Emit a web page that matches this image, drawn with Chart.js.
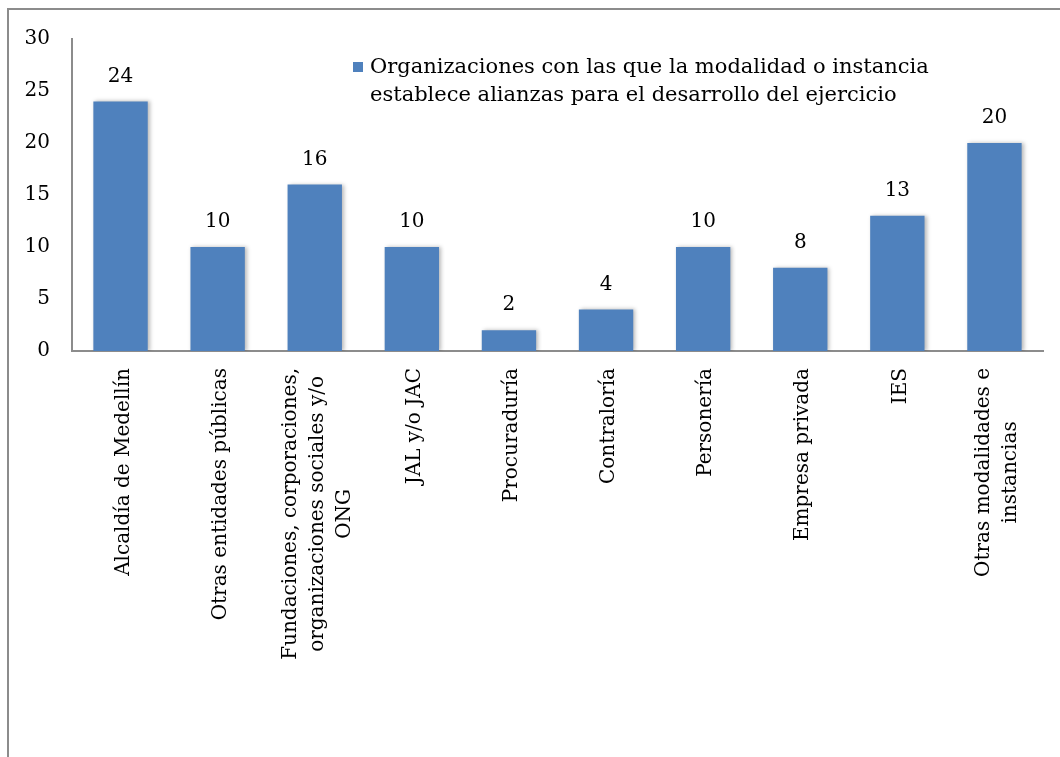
<!DOCTYPE html>
<html>
<head>
<meta charset="utf-8">
<script src="https://cdn.jsdelivr.net/npm/chart.js@4"></script>
<style>
  html, body { margin: 0; padding: 0; background: #fff; overflow: hidden; }
  #chart { display: block; }
</style>
</head>
<body>
<canvas id="chart" width="1060" height="757"></canvas>
<script>
// categories (multi-line ones are split the way the reference wraps them)
let categories = [
    ['Alcaldía de Medellín'],
    ['Otras entidades públicas'],
    ['Fundaciones, corporaciones,', 'organizaciones sociales y/o', 'ONG'],
    ['JAL y/o JAC'],
    ['Procuraduría'],
    ['Contraloría'],
    ['Personería'],
    ['Empresa privada'],
    ['IES'],
    ['Otras modalidades e', 'instancias']
]
// number of organizations per category
let values = [24, 10, 16, 10, 2, 4, 10, 8, 13, 20]
let seriesName = ['Organizaciones con las que la modalidad o instancia', 'establece alianzas para el desarrollo del ejercicio']
let yTicks = [0, 5, 10, 15, 20, 25, 30]

let font = '"DejaVu Serif", serif'
let fontSize = 20
let barColor = '#4F81BD'

// grey frame at the top and left edge, like the cropped chart box
let framePlugin = {
    id: 'frame',
    beforeDraw: function(chart) {
        let c = chart.ctx
        c.save()
        c.strokeStyle = '#8c8c8c'
        c.lineWidth = 2
        c.beginPath()
        c.moveTo(1060, 9)
        c.lineTo(8, 9)
        c.lineTo(8, 757)
        c.stroke()
        c.restore()
    }
}

// soft shadow behind the bars
let shadowPlugin = {
    id: 'barShadow',
    beforeDatasetsDraw: function(chart) {
        let c = chart.ctx
        c.save()
        c.shadowColor = 'rgba(0,0,0,0.28)'
        c.shadowBlur = 4
        c.shadowOffsetX = 2
        c.shadowOffsetY = 0
    },
    afterDatasetsDraw: function(chart) {
        chart.ctx.restore()
    }
}

// value labels, rotated category labels and the legend
let textPlugin = {
    id: 'texts',
    afterDraw: function(chart) {
        let c = chart.ctx
        let meta = chart.getDatasetMeta(0)
        let xScale = chart.scales.x
        c.save()
        c.fillStyle = '#000'
        c.font = fontSize + 'px ' + font

        // values above bars
        c.textAlign = 'center'
        c.textBaseline = 'middle'
        meta.data.forEach(function(bar, i) {
            c.fillText(String(values[i]), bar.x, bar.y - 25)
        })

        // category labels, rotated, top end just under the axis
        let top = xScale.top + 17
        let lineH = 27
        categories.forEach(function(lines, i) {
            let x = xScale.getPixelForTick(i) + 3
            let maxW = 0
            lines.forEach(function(l) { maxW = Math.max(maxW, c.measureText(l).width) })
            c.save()
            c.translate(x, top + maxW / 2)
            c.rotate(-Math.PI / 2)
            c.textAlign = 'center'
            c.textBaseline = 'middle'
            lines.forEach(function(l, j) {
                c.fillText(l, 0, (j - (lines.length - 1) / 2) * lineH)
            })
            c.restore()
        })

        // legend
        c.font = '21px ' + font
        c.fillStyle = barColor
        c.fillRect(353, 62, 10, 10)
        c.fillStyle = '#000'
        c.textAlign = 'left'
        c.textBaseline = 'middle'
        c.fillText(seriesName[0], 370, 68)
        c.fillText(seriesName[1], 370, 96)
        c.restore()
    }
}

let ctx = document.getElementById('chart').getContext('2d')
let chart = new Chart(ctx, {
    type: 'bar',
    data: {
        labels: categories.map(function(l) { return l.join(' ') }),
        datasets: [{
            label: seriesName.join(' '),
            data: values,
            backgroundColor: barColor,
            borderWidth: 0,
            categoryPercentage: 1,
            barPercentage: 0.56
        }]
    },
    options: {
        responsive: false,
        animation: false,
        devicePixelRatio: 1,
        layout: { padding: { top: 39, right: 17, left: 0, bottom: 0 } },
        plugins: {
            legend: { display: false },
            tooltip: { enabled: false }
        },
        scales: {
            x: {
                grid: { display: false, drawTicks: false },
                border: { display: true, color: '#8c8c8c', width: 2 },
                ticks: { display: false },
                afterFit: function(scale) { scale.height = 757 - 351 }
            },
            y: {
                min: 0,
                max: 30,
                afterBuildTicks: function(scale) {
                    scale.ticks = yTicks.map(function(v) { return { value: v } })
                },
                grid: { display: false, drawTicks: false },
                border: { display: true, color: '#8c8c8c', width: 2 },
                ticks: {
                    padding: 22,
                    color: '#000',
                    font: { family: font, size: fontSize }
                },
                afterFit: function(scale) { scale.width = 72 }
            }
        }
    },
    plugins: [framePlugin, shadowPlugin, textPlugin]
})
</script>
</body>
</html>
